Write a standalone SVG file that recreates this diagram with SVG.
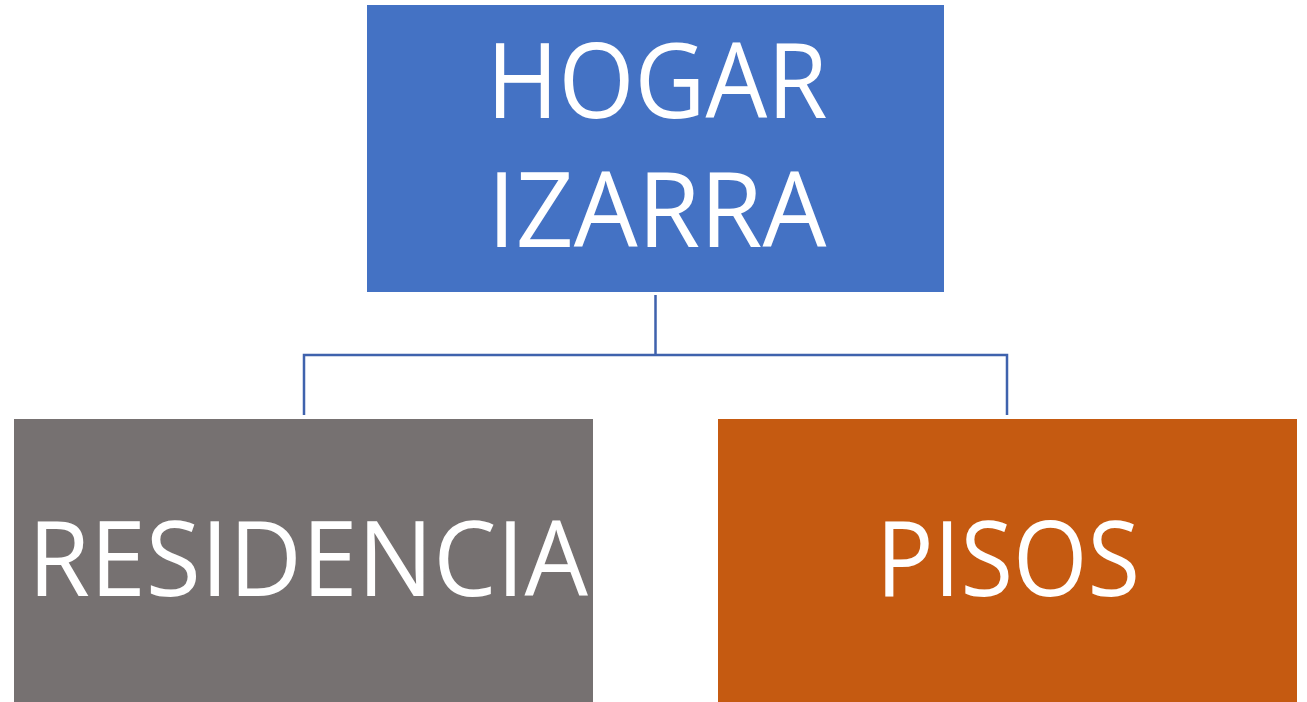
<svg xmlns="http://www.w3.org/2000/svg" width="1307" height="702" viewBox="0 0 1307 702">
<style>
.lbl{font-family:"Open Sans","Noto Sans","Liberation Sans",sans-serif;font-size:104px;fill:#ffffff;text-anchor:middle}
.conn{fill:none;stroke:#3f62ad;stroke-width:2.5}
</style>
<rect width="1307" height="702" fill="#ffffff"/>
<g id="connectors">
<path class="conn" d="M655.5 295 V355 M304 415 V355 H1007 V415"/>
</g>
<g id="node-hogar">
<rect x="367" y="5" width="577" height="287" fill="#4472c4"/>
<text class="lbl" x="657" y="118" textLength="341" lengthAdjust="spacingAndGlyphs">HOGAR</text>
<text class="lbl" x="657" y="247" textLength="339" lengthAdjust="spacingAndGlyphs">IZARRA</text>
</g>
<g id="node-residencia">
<rect x="14" y="419" width="579" height="283" fill="#767171"/>
<text class="lbl" x="308" y="596" textLength="560" lengthAdjust="spacingAndGlyphs">RESIDENCIA</text>
</g>
<g id="node-pisos">
<rect x="718" y="419" width="579" height="283" fill="#c55a11"/>
<text class="lbl" x="1008" y="596" textLength="264" lengthAdjust="spacingAndGlyphs">PISOS</text>
</g>
</svg>
